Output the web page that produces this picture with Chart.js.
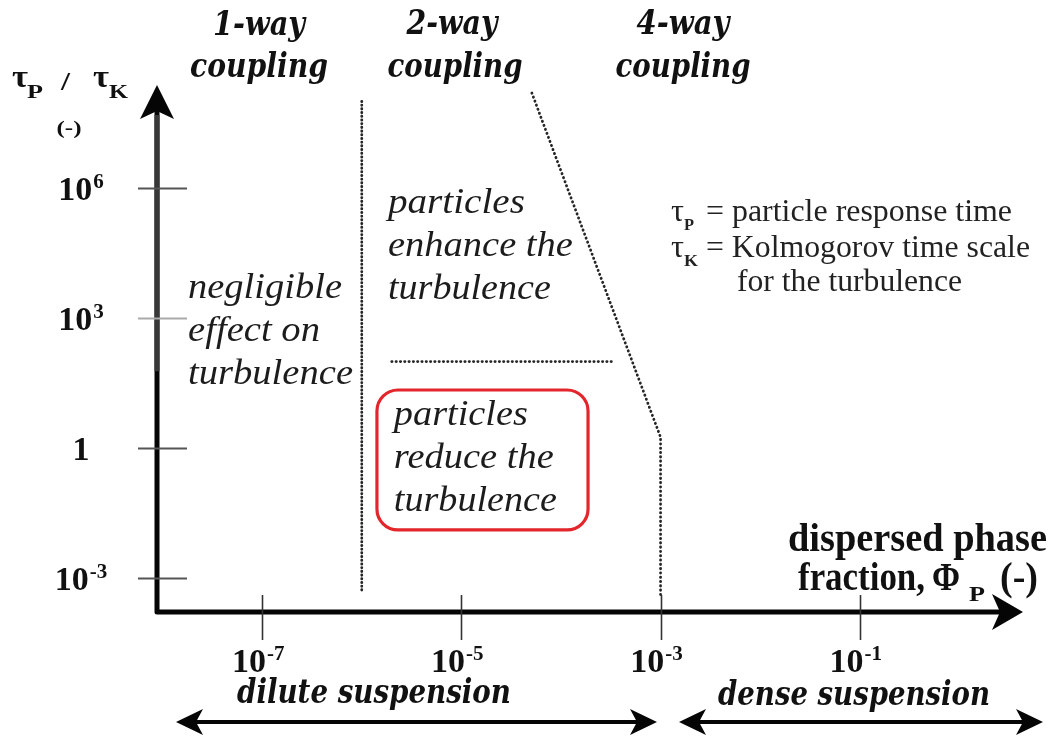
<!DOCTYPE html>
<html>
<head>
<meta charset="utf-8">
<script src="https://cdn.jsdelivr.net/npm/chart.js@4.4.1/dist/chart.umd.min.js"></script>
<style>
  html, body { margin: 0; padding: 0; background: #fff; }
  canvas { display: block; }
</style>
</head>
<body>
<canvas id="chart-map" width="1052" height="737"></canvas>
<script>
// axis ticks (x = dispersed phase fraction, y = tauP / tauK)
var xTicks = [1e-7, 1e-5, 1e-3, 1e-1];
var xTickExp = ['-7', '-5', '-3', '-1'];
var yTicks = [1e6, 1e3, 1, 1e-3];
var yTickExp = ['6', '3', '', '-3'];

// regime boundaries
var oneWayX = [1e-6, 1e-6];
var oneWayY = [1e8, 5.4e-4];
var fourWayX = [5.1e-5, 1e-3, 1e-3];
var fourWayY = [1.56e8, 1.8, 3.5e-4];
var enhanceX = [2.0e-6, 3.3e-4];
var enhanceY = [100, 100];

// text blocks inside the map (anchor = first line, left edge / baseline)
var regionLabels = [
    { lines: ['negligible', 'effect on', 'turbulence'], x: 1.8e-8, y: 2.9e3, widths: [154, 132, 165] },
    { lines: ['particles', 'enhance the', 'turbulence'], x: 1.83e-6, y: 2.67e5, widths: [137, 185, 163] },
    { lines: ['particles', 'reduce the', 'turbulence'], x: 2.1e-6, y: 3.44, widths: [134, 160, 163] }
];
var reduceBoxX = [1.42e-6, 1.87e-4];
var reduceBoxY = [22.1, 1.31e-2];

function pts(xs, ys) {
    return xs.map(function(v, i) { return { x: v, y: ys[i] }; });
}

// draws text, squeezed/stretched horizontally to a target width if given
function drawText(ctx, str, x, y, font, width, align, color) {
    ctx.save();
    ctx.font = font;
    ctx.fillStyle = color || '#111';
    ctx.textAlign = 'left';
    ctx.textBaseline = 'alphabetic';
    var w = ctx.measureText(str).width;
    var sx = width ? width / w : 1;
    var x0 = x;
    if (align === 'center') x0 = x - w * sx / 2;
    if (align === 'right') x0 = x - w * sx;
    ctx.translate(x0, y);
    ctx.scale(sx, 1);
    ctx.fillText(str, 0, 0);
    ctx.restore();
    return w * sx;
}

function arrowHead(ctx, tx, ty, ang, len, half, notch) {
    ctx.save();
    ctx.translate(tx, ty);
    ctx.rotate(ang);
    ctx.beginPath();
    ctx.moveTo(0, 0);
    ctx.lineTo(-len, -half);
    ctx.lineTo(-len + notch, 0);
    ctx.lineTo(-len, half);
    ctx.closePath();
    ctx.fill();
    ctx.restore();
}

// power-of-ten label: "10" + raised exponent, centred at cx
function powLabel(ctx, exp, cx, base) {
    var big = 'bold 34px "Liberation Serif"';
    var sup = 'bold 21px "Liberation Serif"';
    var main = exp === '' ? '1' : '10';
    ctx.font = big;
    var w1 = ctx.measureText(main).width;
    ctx.font = sup;
    var w2 = exp === '' ? 0 : ctx.measureText(exp).width + 1;
    var x0 = cx - (w1 + w2) / 2;
    drawText(ctx, main, x0, base, big, null, 'left', '#111');
    if (exp !== '') drawText(ctx, exp, x0 + w1 + 1, base - 12, sup, null, 'left', '#111');
}

var diagramPlugin = {
    id: 'diagram',
    afterDatasetsDraw: function(chart) {
        var ctx = chart.ctx;
        var xs = chart.scales.x, ys = chart.scales.y, ca = chart.chartArea;
        var ox = ca.left, oy = ca.bottom;

        // axes
        ctx.save();
        ctx.lineJoin = 'round';
        ctx.strokeStyle = '#050505';
        ctx.fillStyle = '#050505';
        ctx.lineWidth = 5;
        ctx.beginPath();
        ctx.moveTo(ox, ca.top + 26);
        ctx.lineTo(ox, oy);
        ctx.lineTo(ca.right - 22, oy);
        ctx.stroke();
        ctx.strokeStyle = '#383838';
        ctx.beginPath();
        ctx.moveTo(ox, ca.top + 30);
        ctx.lineTo(ox, ys.getPixelForValue(60));
        ctx.stroke();
        arrowHead(ctx, ox, ca.top, -Math.PI / 2, 34, 17, 8);
        arrowHead(ctx, ca.right, oy, 0, 31, 18, 8);

        // ticks
        ctx.lineWidth = 1.6;
        xTicks.forEach(function(v) {
            var px = Math.round(xs.getPixelForValue(v)) + 0.5;
            ctx.strokeStyle = '#333';
            ctx.beginPath();
            ctx.moveTo(px, oy - 17);
            ctx.lineTo(px, oy + 28);
            ctx.stroke();
        });
        yTicks.forEach(function(v) {
            var py = Math.round(ys.getPixelForValue(v)) + 0.5;
            ctx.strokeStyle = v === 1e3 ? '#aaaaaa' : '#555';
            ctx.lineWidth = 2;
            ctx.beginPath();
            ctx.moveTo(ox - 19, py);
            ctx.lineTo(ox + 30, py);
            ctx.stroke();
        });
        ctx.restore();

        // tick labels
        xTicks.forEach(function(v, i) {
            powLabel(ctx, xTickExp[i], xs.getPixelForValue(v) - 4, oy + 60);
        });
        yTicks.forEach(function(v, i) {
            powLabel(ctx, yTickExp[i], 81, ys.getPixelForValue(v) + 12);
        });

        // y axis title
        var bs = 'bold 31px "Liberation Serif"';
        var bsub = 'bold 19px "Liberation Serif"';
        drawText(ctx, 'τ', 12, 87, bs, 16);
        drawText(ctx, 'P', 27, 98, bsub, 16);
        drawText(ctx, '/', 61, 90, 'bold 26px "Liberation Serif"', 9);
        drawText(ctx, 'τ', 93, 87, bs, 16);
        drawText(ctx, 'K', 109, 98, bsub, 19);
        drawText(ctx, '(-)', 69, 134, 'bold 19px "Liberation Serif"', 25, 'center');

        // x axis title
        var bx = 'bold 40px "Liberation Serif"';
        drawText(ctx, 'dispersed phase', 788, 551, bx, 259);
        drawText(ctx, 'fraction,', 798, 590, bx, 127);
        drawText(ctx, 'Φ', 932, 590, bx, 28);
        drawText(ctx, 'P', 969, 601, 'bold 22px "Liberation Serif"', 16);
        drawText(ctx, '(-)', 1000, 590, bx, 38);

        // coupling headers
        var hf = 'bold italic 34px "DejaVu Serif"';
        drawText(ctx, '1-way', 259, 35, hf, 92, 'center');
        drawText(ctx, 'coupling', 259, 77, hf, 138, 'center');
        drawText(ctx, '2-way', 452, 34, hf, 91, 'center');
        drawText(ctx, 'coupling', 455, 77, hf, 135, 'center');
        drawText(ctx, '4-way', 683, 34, hf, 93, 'center');
        drawText(ctx, 'coupling', 683, 77, hf, 135, 'center');

        // key
        var kf = '31px "Liberation Serif"';
        var ksub = 'bold 17px "Liberation Serif"';
        drawText(ctx, 'τ', 671, 221, kf, 13, 'left', '#222');
        drawText(ctx, 'P', 684, 230, ksub, 10, 'left', '#222');
        drawText(ctx, '= particle response time', 706, 221, kf, 306, 'left', '#222');
        drawText(ctx, 'τ', 671, 257, kf, 13, 'left', '#222');
        drawText(ctx, 'K', 684, 266, ksub, 14, 'left', '#222');
        drawText(ctx, '= Kolmogorov time scale', 706, 257, kf, 324, 'left', '#222');
        drawText(ctx, 'for the turbulence', 737, 291, kf, 225, 'left', '#222');

        // regions
        var rf = 'italic 36px "Liberation Serif"';
        regionLabels.forEach(function(r) {
            var lx = xs.getPixelForValue(r.x), ly = ys.getPixelForValue(r.y);
            r.lines.forEach(function(s, k) {
                drawText(ctx, s, lx, ly + k * 43, rf, r.widths[k], 'left', '#1c1c1c');
            });
        });

        // red box round "particles reduce the turbulence"
        var bx0 = xs.getPixelForValue(reduceBoxX[0]), bx1 = xs.getPixelForValue(reduceBoxX[1]);
        var by0 = ys.getPixelForValue(reduceBoxY[0]), by1 = ys.getPixelForValue(reduceBoxY[1]);
        ctx.save();
        ctx.strokeStyle = '#e3262b';
        ctx.lineWidth = 3.2;
        ctx.beginPath();
        ctx.roundRect(bx0, by0, bx1 - bx0, by1 - by0, 21);
        ctx.stroke();
        ctx.restore();

        // suspension arrows
        var sf = 'bold italic 34px "DejaVu Serif"';
        drawText(ctx, 'dilute suspension', 374, 703, sf, 274, 'center');
        drawText(ctx, 'dense suspension', 854, 705, sf, 272, 'center');
        ctx.save();
        ctx.strokeStyle = '#050505';
        ctx.fillStyle = '#050505';
        ctx.lineWidth = 4;
        ctx.beginPath();
        ctx.moveTo(190, 722); ctx.lineTo(643, 722);
        ctx.moveTo(693, 722); ctx.lineTo(1028, 722);
        ctx.stroke();
        arrowHead(ctx, 176, 722, Math.PI, 27, 13, 7);
        arrowHead(ctx, 657, 722, 0, 27, 13, 7);
        arrowHead(ctx, 679, 722, Math.PI, 27, 13, 7);
        arrowHead(ctx, 1043, 722, 0, 27, 13, 7);
        ctx.restore();
    }
};

var dotted = {
    borderColor: '#262626',
    borderWidth: 2.8,
    borderDash: [0.3, 4],
    borderCapStyle: 'round',
    pointRadius: 0,
    fill: false,
    tension: 0
};

var ctx = document.getElementById('chart-map').getContext('2d');
var myChart = new Chart(ctx, {
    type: 'line',
    data: {
        datasets: [
            Object.assign({ label: '1-way / 2-way', data: pts(oneWayX, oneWayY) }, dotted, { borderDash: [0.3, 3.4] }),
            Object.assign({ label: '2-way / 4-way', data: pts(fourWayX, fourWayY) }, dotted),
            Object.assign({ label: 'enhance / reduce', data: pts(enhanceX, enhanceY) }, dotted)
        ]
    },
    options: {
        responsive: false,
        animation: false,
        devicePixelRatio: 1,
        layout: { padding: { left: 157, right: 29, top: 85, bottom: 125 } },
        scales: {
            x: { type: 'logarithmic', min: Math.pow(10, -8.056), max: Math.pow(10, 0.639), display: false },
            y: { type: 'logarithmic', min: Math.pow(10, -3.774), max: Math.pow(10, 8.377), display: false }
        },
        plugins: {
            legend: { display: false },
            tooltip: { enabled: false }
        }
    },
    plugins: [diagramPlugin]
});
</script>
</body>
</html>
